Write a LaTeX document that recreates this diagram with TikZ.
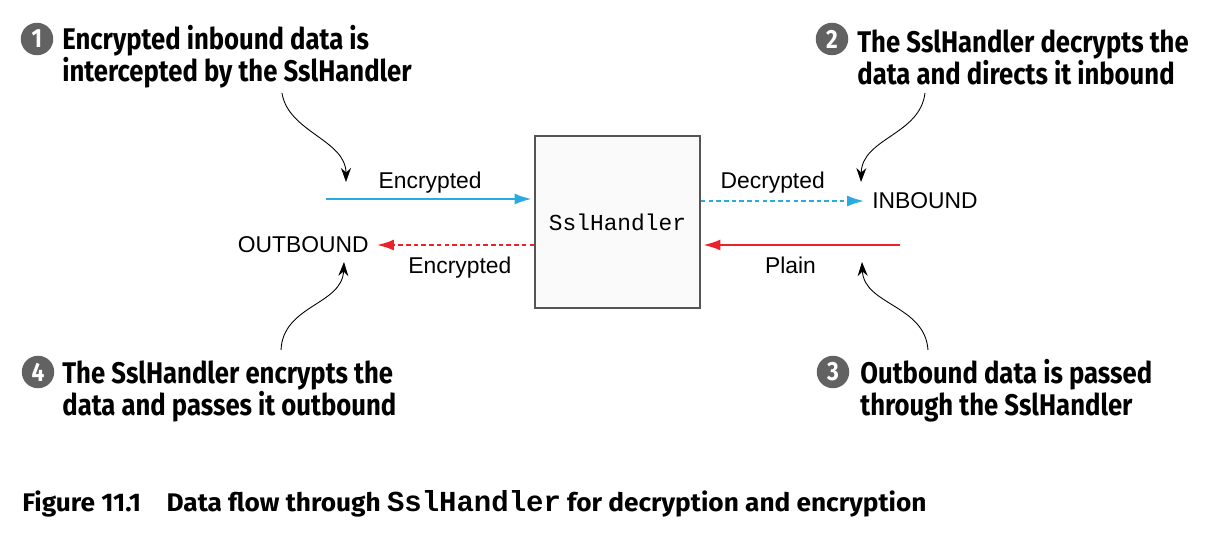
\documentclass[tikz,border=0pt]{standalone}
\usepackage{fontspec}
\setmainfont{Liberation Sans}
\setmonofont{Liberation Mono}
\newfontfamily\calloutfont[FakeStretch=0.86]{Fira Sans}
\newfontfamily\captionfont[FakeStretch=1.03]{Fira Sans}
\usetikzlibrary{positioning,arrows.meta}
\definecolor{flowblue}{RGB}{41,171,226}
\definecolor{flowred}{RGB}{236,34,42}
\definecolor{numgray}{RGB}{98,98,98}
\definecolor{boxgray}{RGB}{85,85,85}

\begin{document}
\begin{tikzpicture}[x=0.02cm,y=-0.02cm,>={Latex[length=3.4mm,width=2.2mm]}]
        \useasboundingbox (0,0) rectangle (1208,534);
        \tikzset{
          callout/.style={anchor=west,align=left,inner sep=0pt,font=\calloutfont\bfseries\fontsize{17}{18.2}\selectfont},
          num/.style={circle,fill=numgray,text=white,minimum size=0.65cm,inner sep=0pt,font=\calloutfont\bfseries\fontsize{15}{15}\selectfont},
          flowlabel/.style={font=\fontsize{13}{13}\selectfont,inner sep=0pt},
          flow/.style={line width=1.1pt},
          dashflow/.style={line width=1.1pt,dash pattern=on 2.6pt off 1.8pt},
          pointer/.style={-{Stealth[length=2.8mm,width=2mm]},line width=0.5pt},
        }
        % callouts
        \node[num] (n1) at (37,39) {1};
        \node[callout] (c1) at (62,57) {Encrypted inbound data is\\intercepted by the SslHandler};
        \node[num] (n2) at (832,39) {2};
        \node[callout] (c2) at (857,57) {The SslHandler decrypts the\\data and directs it inbound};
        \node[num] (n4) at (38,372) {4};
        \node[callout] (c4) at (62,391) {The SslHandler encrypts the\\data and passes it outbound};
        \node[num] (n3) at (833,372) {3};
        \node[callout] (c3) at (860,391) {Outbound data is passed\\through the SslHandler};

        % handler and ends
        \node[draw=boxgray,line width=0.9pt,fill=black!2,minimum width=3.3cm,minimum height=3.44cm,
          font=\ttfamily\fontsize{13}{13}\selectfont] (ssl) at (617.5,222) {SslHandler};
        \node[flowlabel,anchor=west] (inb) at (872,201) {INBOUND};
        \node[flowlabel,anchor=east] (outb) at (369,245) {OUTBOUND};
        \coordinate (encin) at (326,199);
        \coordinate (plainin) at (900,245);

        \draw[->,flow,flowblue,shorten >=1.5pt] (encin) -- (encin -| ssl.west)
          node[flowlabel,text=black,midway,above=3pt] (lenc) {Encrypted};
        \draw[->,dashflow,flowblue,shorten >=4.5pt] (ssl.east |- inb) -- (inb.west)
          node[flowlabel,text=black,pos=0.42,above=4pt] (ldec) {Decrypted};
        \draw[->,flow,flowred,shorten >=1.5pt] (plainin) -- (plainin -| ssl.east)
          node[flowlabel,text=black,pos=0.55,below=6pt] (lplain) {Plain};
        \draw[->,dashflow,flowred,shorten >=4.5pt] (ssl.west |- outb) -- (outb.east)
          node[flowlabel,text=black,pos=0.45,below=6pt] (lenc2) {Encrypted};

        % pointers
        \coordinate (p1s) at (282,93);  \coordinate (p1e) at (346,182);
        \coordinate (p2s) at (925,93);  \coordinate (p2e) at (861,182);
        \coordinate (p4s) at (281,350); \coordinate (p4e) at (344,262);
        \coordinate (p3s) at (928,350); \coordinate (p3e) at (862,262);
        \draw[pointer] (p1s) .. controls (288,132) and (346,140) .. (p1e);
        \draw[pointer] (p2s) .. controls (920,135) and (862,138) .. (p2e);
        \draw[pointer] (p4s) .. controls (283,305) and (342,305) .. (p4e);
        \draw[pointer] (p3s) .. controls (925,305) and (864,305) .. (p3e);

        \node[anchor=base west,inner sep=0pt,font=\captionfont\bfseries\fontsize{14.5}{16}\selectfont] (cap) at (22,511)
          {Figure 11.1\quad Data flow through {\ttfamily\fontsize{16.5}{16.5}\selectfont SslHandler} for decryption and encryption};
      \end{tikzpicture}
\end{document}
